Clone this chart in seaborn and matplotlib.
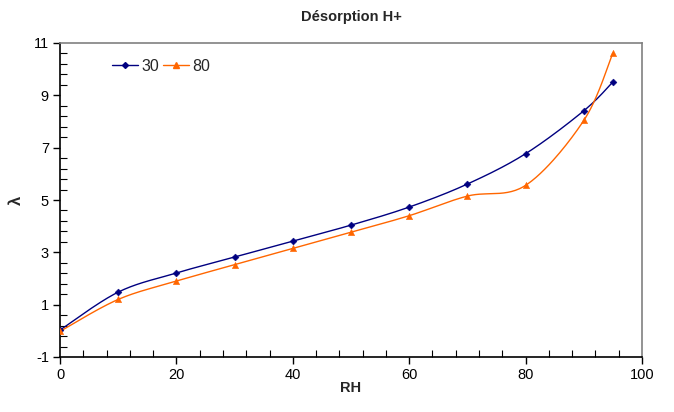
import numpy as np
import pandas as pd
import seaborn as sns
import matplotlib.pyplot as plt
from matplotlib.lines import Line2D
from matplotlib.ticker import MultipleLocator, FixedLocator

# Data
rh = [0, 10, 20, 30, 40, 50, 60, 70, 80, 90, 95]
lam_30 = [0.03, 1.48, 2.21, 2.82, 3.43, 4.04, 4.73, 5.61, 6.77, 8.41, 9.51]
lam_80 = [-0.02, 1.20, 1.90, 2.53, 3.15, 3.77, 4.40, 5.15, 5.56, 8.04, 10.62]
series_names = ['30', '80']
colors = ['#000080', '#FF6600']
markers = ['D', '^']
y_ticks = [-1, 1, 3, 5, 7, 9, 11]


def smooth(x, y, n=30):
    # Excel-like smoothed line (Catmull-Rom style bezier between the points)
    x = np.asarray(x, float)
    y = np.asarray(y, float)
    px = np.concatenate([[x[0]], x, [x[-1]]])
    py = np.concatenate([[y[0]], y, [y[-1]]])
    xs, ys = [], []
    t = np.linspace(0, 1, n)
    for i in range(1, len(px) - 2):
        p0 = np.array([px[i], py[i]])
        p3 = np.array([px[i + 1], py[i + 1]])
        p1 = p0 + (np.array([px[i + 1], py[i + 1]]) - np.array([px[i - 1], py[i - 1]])) / 6
        p2 = p3 - (np.array([px[i + 2], py[i + 2]]) - np.array([px[i], py[i]])) / 6
        b = ((1 - t) ** 3)[:, None] * p0 + (3 * (1 - t) ** 2 * t)[:, None] * p1 \
            + (3 * (1 - t) * t ** 2)[:, None] * p2 + (t ** 3)[:, None] * p3
        xs.extend(b[:, 0])
        ys.extend(b[:, 1])
    return xs, ys


sns.set_style('white')
plt.rcParams['font.family'] = ['Liberation Sans', 'DejaVu Sans']
plt.rcParams['axes.unicode_minus'] = False

fig = plt.figure(figsize=(6.74, 4.12), dpi=100)
ax = fig.add_axes([60 / 674, 1 - 357 / 412, 582 / 674, 314 / 412])

handles = []
for name, vals, c, m in zip(series_names, [lam_30, lam_80], colors, markers):
    sx, sy = smooth(rh, vals)
    curve = pd.DataFrame({'RH': sx, 'lam': sy})
    sns.lineplot(data=curve, x='RH', y='lam', ax=ax, color=c, lw=1.0, sort=False)
    pts = pd.DataFrame({'RH': rh, 'lam': vals})
    sns.scatterplot(data=pts, x='RH', y='lam', ax=ax, color=c, marker=m,
                    s=12 if m == 'D' else 20, edgecolor=c, linewidth=0.4, zorder=3)
    handles.append(Line2D([], [], color=c, lw=1.0, marker=m,
                          markersize=3 if m == 'D' else 4, label=name))

ax.set_xlim(0, 100)
ax.set_ylim(-1, 11)
ax.xaxis.set_major_locator(MultipleLocator(20))
ax.xaxis.set_minor_locator(MultipleLocator(4))
ax.yaxis.set_major_locator(FixedLocator(y_ticks))
ax.yaxis.set_minor_locator(FixedLocator(np.arange(-1, 11.01, 0.4)))
ax.tick_params(which='major', direction='out', length=5, width=1, labelsize=10.5,
               colors='black', pad=3)
ax.tick_params(which='minor', direction='in', length=5, width=0.8, colors='black')
ax.tick_params(axis='both', which='both', bottom=True, left=True)

for side in ['top', 'right']:
    ax.spines[side].set_color('#808080')
    ax.spines[side].set_linewidth(1.2)
for side in ['bottom', 'left']:
    ax.spines[side].set_color('black')
    ax.spines[side].set_linewidth(1.2)

ax.set_xlabel('RH', fontsize=10.5, fontweight='bold', labelpad=-1)
ax.set_ylabel('λ', fontsize=12, fontweight='bold', labelpad=7)
ax.set_title('Désorption H+', fontsize=10.5, fontweight='bold', pad=16)

ax.legend(handles=handles, loc='upper left', bbox_to_anchor=(0.065, 0.996), ncol=2,
          frameon=False, fontsize=11.5, handlelength=1.6, handletextpad=0.2,
          columnspacing=0.3)

fig.savefig('out.png', dpi=100)
